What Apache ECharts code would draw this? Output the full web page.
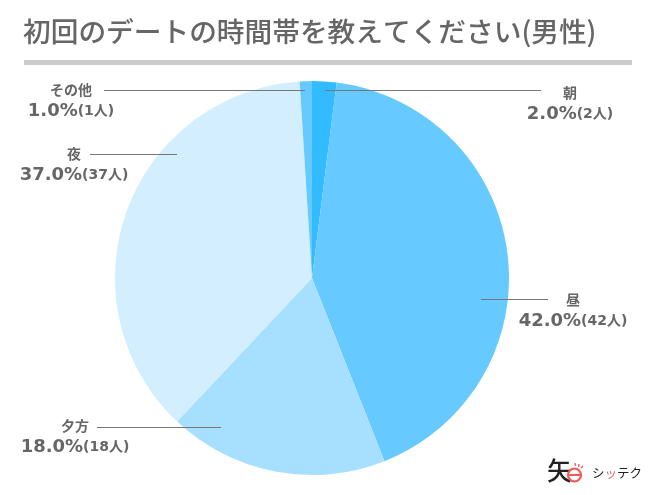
<!DOCTYPE html>
<html><head><meta charset="utf-8">
<style>html,body{margin:0;padding:0;background:#fff}#c{width:650px;height:495px}</style>
<script src="https://cdn.jsdelivr.net/npm/echarts@6/dist/echarts.min.js"></script>
</head><body><div id="c"></div>
<script>
const categories = ['朝','昼','夕方','夜','その他'];
const counts = [2,42,18,37,1];
const percents = ['2.0%','42.0%','18.0%','37.0%','1.0%'];
const colors = ['#33bbff','#66c9ff','#a6dfff','#d2eeff','#66c9ff'];
const titleText = '初回のデートの時間帯を教えてください(男性)';
const FONT = '"Noto Sans CJK JP","Noto Sans",sans-serif';
const NUMFONT = '"DejaVu Sans","Noto Sans CJK JP",sans-serif';
const labelPos = [[570,104],[573,310.5],[75,437],[74,164.5],[71,100.5]];
const leaders = [[325,541,90],[481,548,299],[97,221,427],[90,177,154],[104,305,90]];
const chart = echarts.init(document.getElementById('c'),null,{renderer:'canvas'});
const lineEls = leaders.map(l=>({type:'line',z:50,shape:{x1:l[0],y1:l[2]+.5,x2:l[1],y2:l[2]+.5},style:{stroke:'#777',lineWidth:1}}));
chart.setOption({
  animation:false,
  backgroundColor:'#fff',
  title:{text:titleText,left:23,top:18,padding:0,textStyle:{fontFamily:FONT,fontSize:27.7,fontWeight:500,color:'#666'}},
  graphic:[
    {type:'rect',z:40,shape:{x:24,y:60,width:608,height:5},style:{fill:'#cbcbcb'}},
    ...lineEls,
    {type:'text',z:40,left:547,top:458,style:{text:'矢',font:'500 25px '+FONT,fill:'#222'}},
    {type:'circle',z:40,shape:{cx:574.5,cy:475,r:6.5},style:{fill:'#fff',stroke:'#f05a5a',lineWidth:2.2}},
    {type:'rect',z:41,shape:{x:568.5,y:474,width:12,height:2},style:{fill:'#f05a5a'}},
    {type:'line',z:40,shape:{x1:575,y1:463,x2:575.5,y2:466},style:{stroke:'#f05a5a',lineWidth:1.3}},
    {type:'line',z:40,shape:{x1:579,y1:464,x2:578.5,y2:467},style:{stroke:'#f05a5a',lineWidth:1.3}},
    {type:'line',z:40,shape:{x1:583,y1:466,x2:581,y2:468},style:{stroke:'#f05a5a',lineWidth:1.3}},
    {type:'text',z:40,left:592,top:467,style:{rich:{a:{fontFamily:FONT,fontSize:12.5,fill:'#222'},b:{fontFamily:FONT,fontSize:12.5,fill:'#f05a5a'}},text:'{a|シ}{b|ッ}{a|テク}'}}
  ],
  series:[{
    type:'pie',center:[312,278],radius:[0,197],startAngle:90,clockwise:true,silent:true,
    data:categories.map((n,i)=>({name:n,value:counts[i],itemStyle:{color:colors[i]}})),
    labelLine:{show:false},
    label:{show:true,position:'outside',overflow:'none',width:200,
      formatter:p=>`{n|${p.name}}\n{p|${percents[p.dataIndex]}}{c|(${counts[p.dataIndex]}人)}`,
      rich:{
        n:{fontFamily:FONT,fontSize:14,fontWeight:'bold',color:'#666',lineHeight:21,align:'center'},
        p:{fontFamily:NUMFONT,fontSize:18,fontWeight:'bold',color:'#666',lineHeight:22},
        c:{fontFamily:NUMFONT,fontSize:14,fontWeight:'bold',color:'#666',lineHeight:22}
      }},
    labelLayout:p=>({x:labelPos[p.dataIndex][0],y:labelPos[p.dataIndex][1],align:'center',verticalAlign:'middle',hideOverlap:false})
  }]
});
</script></body></html>
